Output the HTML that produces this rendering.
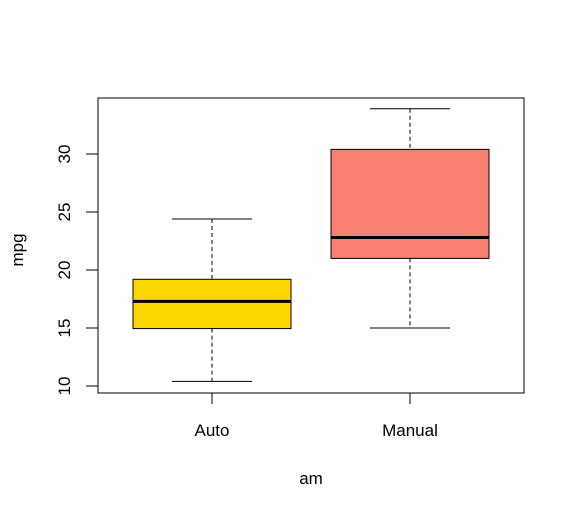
<!DOCTYPE html>
<html><head><meta charset="utf-8"><style>body{margin:0;background:#fff}svg{display:block;font-family:"Liberation Sans",Arial,sans-serif}</style></head>
<body>
<svg id="chart" width="575" height="515">
<rect x="98" y="98" width="426" height="295" fill="none" stroke="#000" stroke-width="1"/>
<g id="yaxis"></g>
<g id="boxes"></g>
<text x="23" y="250" transform="rotate(-90 23 250)" text-anchor="middle" font-size="17">mpg</text>
<text x="311" y="484" text-anchor="middle" font-size="17">am</text>
</svg>
<script>
const categories=["Auto","Manual"];
const mins=[10.4,15.0];
const q1s=[14.95,21.0];
const medians=[17.3,22.8];
const q3s=[19.2,30.4];
const maxs=[24.4,33.9];
const colors=["#FFD700","#FA8072"];
const yTicks=[10,15,20,25,30];
const NS="http://www.w3.org/2000/svg";
function y(v){return 386-(v-10)*11.6;}
function xc(i){return 212+i*198;}
function mk(tag,attrs,parent){const e=document.createElementNS(NS,tag);for(const k in attrs)e.setAttribute(k,attrs[k]);parent.appendChild(e);return e;}
const ya=document.getElementById('yaxis');
yTicks.forEach(t=>{
 const l=mk('line',{x1:86,x2:98,y1:y(t),y2:y(t),stroke:'#000'},ya);
 
 
 const tx=mk('text',{x:70,y:y(t),transform:`rotate(-90 70 ${y(t)})`,'text-anchor':'middle','font-size':'17'},ya);
 tx.textContent=t;
 
 
});
const bx=document.getElementById('boxes');
categories.forEach((c,i)=>{
 const cx=xc(i);
 const g=mk('g',{},bx);
 
 
 mk('line',{x1:cx,x2:cx,y1:y(maxs[i]),y2:y(q3s[i]),stroke:'#000','stroke-dasharray':'4,3'},g);
 mk('line',{x1:cx,x2:cx,y1:y(q1s[i]),y2:y(mins[i]),stroke:'#000','stroke-dasharray':'4,3'},g);
 mk('line',{x1:cx-40,x2:cx+40,y1:y(maxs[i]),y2:y(maxs[i]),stroke:'#000'},g);
 mk('line',{x1:cx-40,x2:cx+40,y1:y(mins[i]),y2:y(mins[i]),stroke:'#000'},g);
 mk('rect',{x:cx-79,width:158,y:y(q3s[i]),height:y(q1s[i])-y(q3s[i]),fill:colors[i],stroke:'#000'},g);
 mk('line',{x1:cx-79,x2:cx+79,y1:y(medians[i]),y2:y(medians[i]),stroke:'#000','stroke-width':3},g);
 mk('line',{x1:cx,x2:cx,y1:393,y2:404,stroke:'#000'},g);
 const t=mk('text',{x:cx,y:436,'text-anchor':'middle','font-size':'17'},g);
 t.textContent=c;
 
 
});
</script>
</body></html>
